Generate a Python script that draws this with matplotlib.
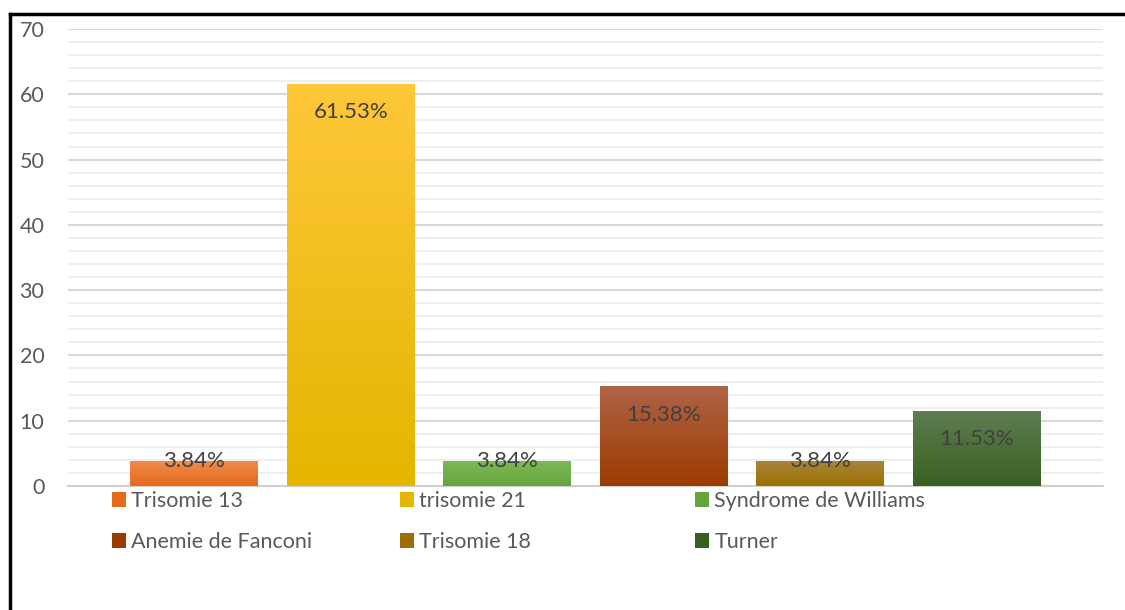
import numpy as np
import matplotlib
matplotlib.use("Agg")
import matplotlib.pyplot as plt
from matplotlib.colors import LinearSegmentedColormap
from matplotlib.lines import Line2D

# Données
categories = ["Trisomie 13", "trisomie 21", "Syndrome de Williams",
              "Anemie de Fanconi", "Trisomie 18", "Turner"]
values = [3.84, 61.53, 3.84, 15.38, 3.84, 11.53]
labels = ["3.84%", "61.53%", "3.84%", "15,38%", "3.84%", "11.53%"]
y_ticks = [0, 10, 20, 30, 40, 50, 60, 70]

# couleurs dégradées (haut, bas)
top_colors = ["#F28C4E", "#FFC73A", "#7DBA58", "#B06448", "#A8853E", "#5F7E52"]
bottom_colors = ["#E46A1C", "#E5B500", "#66A43C", "#9C3B00", "#9C7000", "#386020"]

plt.rcParams['font.family'] = ['Lato', 'DejaVu Sans']

fig = plt.figure(figsize=(11.25, 6.1), dpi=100)
ax = fig.add_axes([68 / 1125, 1 - 486 / 610, (1103 - 68) / 1125, (486 - 29) / 610])

x = np.arange(len(categories))
width = 0.816
bars = ax.bar(x, values, width=width, color=bottom_colors, zorder=3)

# dégradé vertical dans chaque barre
grad = np.linspace(0, 1, 256).reshape(-1, 1)
for b, ct, cb in zip(bars, top_colors, bottom_colors):
    cmap = LinearSegmentedColormap.from_list("g", [cb, ct])
    im = ax.imshow(grad, cmap=cmap, origin="lower", aspect="auto", zorder=3.5,
                   extent=(b.get_x(), b.get_x() + b.get_width(), 0, b.get_height()))
    im.set_clip_path(b)

# étiquettes de valeurs
for xi, v, lab in zip(x, values, labels):
    ypos = v - 4.3 if v - 4.3 > v / 2 else v
    ax.text(xi, ypos, lab, ha="center", va="center", fontsize=16,
            color="#404040", zorder=5)

ax.set_xlim(-0.805, 5.805)
ax.set_ylim(0, 70)
ax.set_yticks(y_ticks)
ax.set_yticks(np.arange(0, 71, 2), minor=True)
ax.set_xticks([])
ax.tick_params(axis="y", which="both", length=0, pad=17, labelsize=15.5,
               labelcolor="#595959")
ax.grid(axis="y", which="major", color="#d9d9d9", linewidth=1.5, zorder=0)
ax.grid(axis="y", which="minor", color="#efefef", linewidth=1.5, zorder=0)
for s in ["top", "right", "left"]:
    ax.spines[s].set_visible(False)
ax.spines["bottom"].set_color("#d0d0d0")
ax.spines["bottom"].set_linewidth(1.5)

# légende en trois colonnes
cols = [[0, 3], [1, 4], [2, 5]]
col_x = [112 / 1125, 400 / 1125, 695 / 1125]
for cx, idx in zip(col_x, cols):
    handles = [bars[i] for i in idx]
    fig.legend(handles, [categories[i] for i in idx], loc="upper left",
               bbox_to_anchor=(cx, 1 - 491 / 610), frameon=False,
               fontsize=15.5, labelcolor="#595959", handlelength=0.67,
               handleheight=0.67, handletextpad=0.22, labelspacing=0.98,
               borderpad=0, borderaxespad=0)

# cadre noir
fig.add_artist(Line2D([10 / 1125, 10 / 1125], [0, 1 - 14 / 610],
                      transform=fig.transFigure, color="black", linewidth=2.5))
fig.add_artist(Line2D([10 / 1125, 1], [1 - 14 / 610, 1 - 14 / 610],
                      transform=fig.transFigure, color="black", linewidth=2.5))

fig.savefig("out.png", dpi=100)
